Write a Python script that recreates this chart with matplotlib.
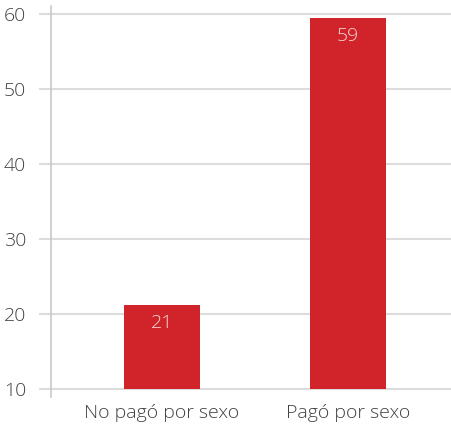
import matplotlib.pyplot as plt

categories = ["No pagó por sexo", "Pagó por sexo"]
values = [21.2, 59.5]
labels = ["21", "59"]
yticks = [10, 20, 30, 40, 50, 60]

plt.rcParams['font.family'] = ['Open Sans', 'DejaVu Sans']

fig = plt.figure(figsize=(4.51, 4.25), dpi=100)
ax = fig.add_axes([51 / 451, 1 - 397 / 425, 1 - 51 / 451, (397 - 6) / 425])

x = list(range(len(categories)))
bars = ax.bar(x, [v - 10 for v in values], bottom=10, width=0.41, color="#d0232a", zorder=3)

# value labels just inside the top of each bar
for b, lab in zip(bars, labels):
    ax.annotate(lab, (b.get_x() + b.get_width() / 2, b.get_y() + b.get_height()),
                xytext=(0, -18), textcoords="offset pixels",
                ha="center", va="center", color="#f6d6d6", fontsize=14, fontweight="light")

ax.set_xlim(-0.597, 1.554)
ax.set_ylim(8.93, 61.07)
ax.set_yticks(yticks)
ax.set_xticks(x)
ax.set_xticklabels(categories)
ax.yaxis.grid(True, color="#dcdcdc", linewidth=1.5, zorder=0)
ax.set_axisbelow(True)

for s in ["top", "right", "bottom"]:
    ax.spines[s].set_visible(False)
ax.spines["left"].set_color("#c8c8c8")
ax.spines["left"].set_linewidth(1.2)

ax.tick_params(axis="y", length=9, width=1.5, color="#dcdcdc", labelsize=14,
               labelcolor="#404040", pad=9)
ax.tick_params(axis="x", length=0, labelsize=14, labelcolor="#404040", pad=5)
for t in ax.get_yticklabels() + ax.get_xticklabels():
    t.set_fontweight("light")

fig.savefig("out.png", dpi=100)
